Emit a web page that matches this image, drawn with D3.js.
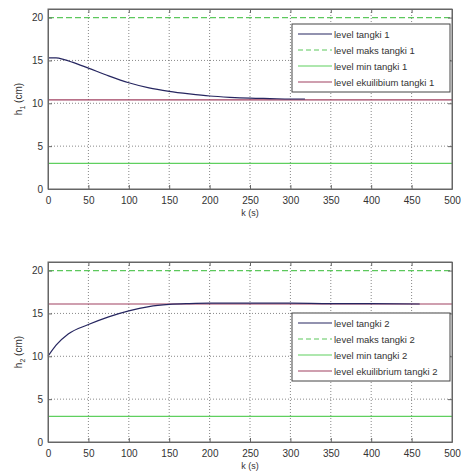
<!DOCTYPE html>
<html>
<head>
<meta charset="utf-8">
<script src="https://cdn.jsdelivr.net/npm/d3@7"></script>
<style>
  body { margin: 0; background: #fff; }
  text { font-family: "Liberation Sans", Arial, sans-serif; fill: #333; }
</style>
</head>
<body>
<div class="container"></div>
<script>
// data
const time1 = [0, 10, 20, 30, 50, 75, 100, 125, 150, 175, 200, 225, 250, 275, 300, 318];
const level1 = [15.3, 15.3, 15.1, 14.8, 14.1, 13.2, 12.4, 11.8, 11.4, 11.1, 10.85, 10.7, 10.6, 10.55, 10.5, 10.5];
const time2 = [0, 10, 25, 50, 75, 100, 125, 150, 175, 200, 250, 300, 350, 400, 460];
const level2 = [10.0, 11.3, 12.6, 13.7, 14.6, 15.3, 15.8, 16.05, 16.15, 16.2, 16.2, 16.2, 16.15, 16.15, 16.1];
const maxLevel = [20, 20];
const minLevel = [3, 3];
const eqLevel1 = 10.4;
const eqLevel2 = 16.1;
const xTicks = [0, 50, 100, 150, 200, 250, 300, 350, 400, 450, 500];
const yTicks = [0, 5, 10, 15, 20];
const legend1 = ["level tangki 1", "level maks tangki 1", "level min tangki 1", "level ekuilibium tangki 1"];
const legend2 = ["level tangki 2", "level maks tangki 2", "level min tangki 2", "level ekuilibrium tangki 2"];

const colors = { level: "#262660", max: "#5cc85c", min: "#5fd05f", eq: "#a04060", grid: "#555" };

const svg = d3.select(".container").append("svg")
  .attr("width", 461).attr("height", 471);

function panel(top, time, level, eq, names, sub, legendTop) {
  const left = 48, width = 404, height = 180;
  const g = svg.append("g").attr("transform", `translate(${left}, ${top})`);

  const x = d3.scaleLinear().domain([0, 500]).range([0, width]);
  const y = d3.scaleLinear().domain([0, 21]).range([height, 0]);

  // grid (the 20 line sits under the max level line)
  g.selectAll(".vgrid").data(xTicks.slice(1, -1)).enter().append("line")
    .attr("x1", d => x(d)).attr("x2", d => x(d)).attr("y1", 0).attr("y2", height)
    .attr("stroke", colors.grid).attr("stroke-width", 0.7).attr("stroke-dasharray", "1,2");
  g.selectAll(".hgrid").data(yTicks.slice(1, -1)).enter().append("line")
    .attr("x1", 0).attr("x2", width).attr("y1", d => y(d)).attr("y2", d => y(d))
    .attr("stroke", colors.grid).attr("stroke-width", 0.7).attr("stroke-dasharray", "1,2");

  const line = d3.line().x(d => x(d[0])).y(d => y(d[1]));

  g.append("path").datum([[0, maxLevel[0]], [500, maxLevel[1]]]).attr("d", line)
    .attr("fill", "none").attr("stroke", colors.max).attr("stroke-width", 1.2).attr("stroke-dasharray", "6,3");
  g.append("path").datum([[0, minLevel[0]], [500, minLevel[1]]]).attr("d", line)
    .attr("fill", "none").attr("stroke", colors.min).attr("stroke-width", 1.3);
  g.append("path").datum([[0, eq], [500, eq]]).attr("d", line)
    .attr("fill", "none").attr("stroke", colors.eq).attr("stroke-width", 1.2);
  g.append("path").datum(time.map((t, i) => [t, level[i]]))
    .attr("d", d3.line().x(d => x(d[0])).y(d => y(d[1])).curve(d3.curveMonotoneX))
    .attr("fill", "none").attr("stroke", colors.level).attr("stroke-width", 1.2);

  // axes with inward ticks on all sides
  g.append("g").attr("transform", `translate(0, ${height})`)
    .call(d3.axisBottom(x).tickValues(xTicks).tickSizeInner(-4).tickSizeOuter(0).tickPadding(8));
  g.append("g").call(d3.axisTop(x).tickValues(xTicks).tickSizeInner(-4).tickSizeOuter(0).tickFormat(""));
  g.append("g")
    .call(d3.axisLeft(y).tickValues(yTicks).tickSizeInner(-4).tickSizeOuter(0).tickPadding(5));
  g.append("g").attr("transform", `translate(${width}, 0)`)
    .call(d3.axisRight(y).tickValues(yTicks).tickSizeInner(-4).tickSizeOuter(0).tickFormat(""));
  g.selectAll(".domain").attr("stroke", "#666");
  g.selectAll(".tick line").attr("stroke", "#666");
  g.selectAll(".tick text").attr("font-size", 10).attr("fill", "#333");

  g.append("rect").attr("width", width).attr("height", height)
    .attr("fill", "none").attr("stroke", "#666").attr("stroke-width", 1);

  // axis labels
  g.append("text").attr("x", x(250)).attr("y", height + 27)
    .attr("text-anchor", "middle").attr("font-size", 9).text("k (s)");
  const yl = g.append("text").attr("transform", `translate(-26, ${height / 2}) rotate(-90)`)
    .attr("text-anchor", "middle").attr("font-size", 10);
  yl.append("tspan").text("h");
  yl.append("tspan").attr("font-size", 7).attr("dy", 3).text(sub);
  yl.append("tspan").attr("dy", -3).text(" (cm)");

  // legend
  const lg = g.append("g").attr("transform", `translate(${244}, ${legendTop})`);
  lg.append("rect").attr("width", 158).attr("height", 68)
    .attr("fill", "#fff").attr("stroke", "#444").attr("stroke-width", 1);
  const styles = [
    { c: colors.level, dash: null },
    { c: colors.max, dash: "5,3" },
    { c: colors.min, dash: null },
    { c: colors.eq, dash: null }
  ];
  names.forEach((n, i) => {
    const yy = 10 + i * 16;
    lg.append("line").attr("x1", 6).attr("x2", 40).attr("y1", yy).attr("y2", yy)
      .attr("stroke", styles[i].c).attr("stroke-width", 1.2)
      .attr("stroke-dasharray", styles[i].dash);
    lg.append("text").attr("x", 42).attr("y", yy + 3.5).attr("font-size", 9.5).text(n);
  });
}

panel(9, time1, level1, eqLevel1, legend1, "1", 15);
panel(262, time2, level2, eqLevel2, legend2, "2", 51);
</script>
</body>
</html>
